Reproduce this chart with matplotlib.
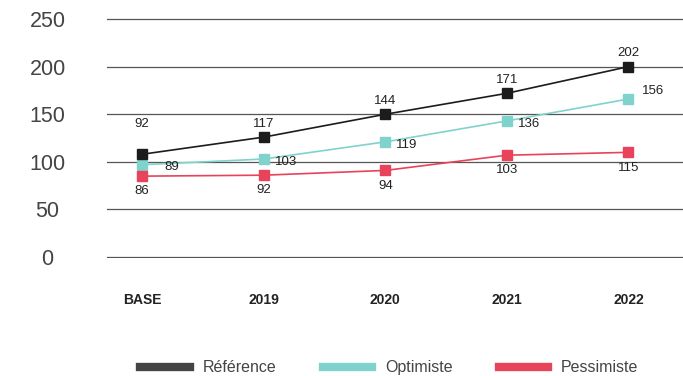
import matplotlib
matplotlib.use('Agg')
import matplotlib.pyplot as plt
from matplotlib.lines import Line2D

plt.rcParams['font.family'] = ['Liberation Sans', 'DejaVu Sans']

# données
annees = ['BASE', '2019', '2020', '2021', '2022']
reference = [108, 126, 150, 172, 200]
optimiste = [97, 103, 121, 143, 166]
pessimiste = [85, 86, 91, 107, 110]
# étiquettes affichées sur le graphique
ref_labels = ['92', '117', '144', '171', '202']
opt_labels = ['89', '103', '119', '136', '156']
pes_labels = ['86', '92', '94', '103', '115']

c_ref = '#1c1c1c'
c_opt = '#7fd3cc'
c_pes = '#e8435a'
c_txt = '#222222'

fig = plt.figure(figsize=(6.83, 3.76), dpi=100)
ax = fig.add_axes([0.157, 0.3138, 0.843, 0.638])

x = list(range(len(annees)))

ax.plot(x, reference, color=c_ref, lw=1.2, marker='s', ms=7, zorder=4)
ax.plot(x, optimiste, color=c_opt, lw=1.2, marker='s', ms=7, zorder=3)
ax.plot(x, pessimiste, color=c_pes, lw=1.2, marker='s', ms=7, zorder=3)

# étiquettes de valeurs
for i in x:
    dy = 22 if i == 0 else 9.5
    ax.annotate(ref_labels[i], (i, reference[i]), xytext=(0, dy), textcoords='offset points',
                ha='center', va='center', fontsize=9.5, color=c_txt)
    if i == 0:
        off = (16, -2)
    elif i == 4:
        off = (9.5, 6)
    else:
        off = (8, -2)
    ax.annotate(opt_labels[i], (i, optimiste[i]), xytext=off, textcoords='offset points',
                ha='left', va='center', fontsize=9.5, color=c_txt)
    ax.annotate(pes_labels[i], (i, pessimiste[i]), xytext=(0, -11), textcoords='offset points',
                ha='center', va='center', fontsize=9.5, color=c_txt)

ax.set_ylim(-1, 251)
ax.set_xlim(-0.288, 4.45)
ax.set_yticks([0, 50, 100, 150, 200, 250])
ax.set_xticks(x)
ax.set_xticklabels(annees, fontsize=10, fontweight='bold', color=c_txt)
ax.tick_params(axis='x', length=0, pad=25)
ax.tick_params(axis='y', length=0, pad=43, labelsize=15.5, labelcolor='#444444')
for lab in ax.get_yticklabels():
    lab.set_horizontalalignment('center')
ax.grid(axis='y', color='#555555', lw=0.9)
ax.set_axisbelow(True)
for s in ax.spines.values():
    s.set_visible(False)

handles = [Line2D([], [], color=c, lw=6) for c in ['#444444', c_opt, c_pes]]
fig.legend(handles, ['Référence', 'Optimiste', 'Pessimiste'], loc='center',
           bbox_to_anchor=(0.57, 0.022), ncol=3, frameon=False, fontsize=11.5,
           handlelength=3.1, handletextpad=0.8, columnspacing=2.9, labelcolor='#444444')

fig.savefig('out.png', dpi=100)
